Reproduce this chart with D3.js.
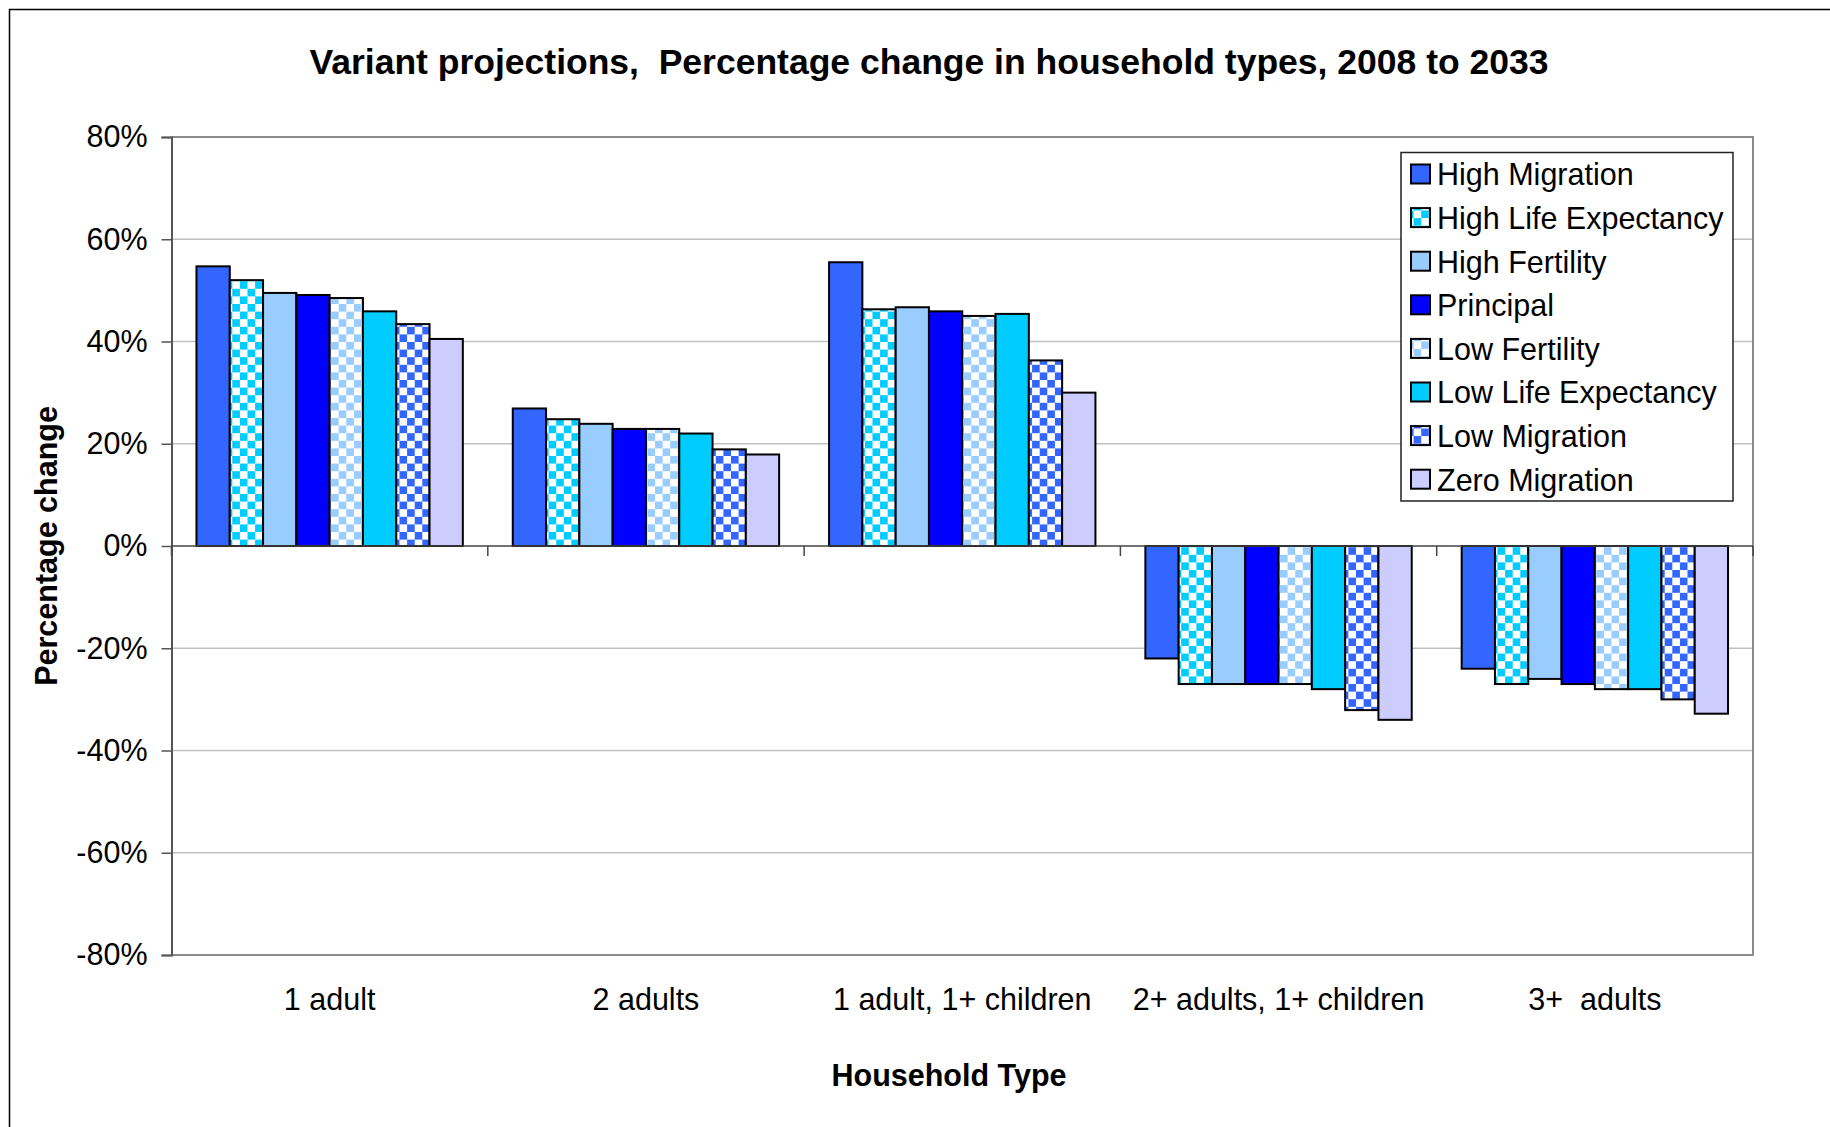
<!DOCTYPE html>
<html>
<head>
<meta charset="utf-8">
<script src="https://cdn.jsdelivr.net/npm/d3@7"></script>
<style>
  html, body { margin: 0; padding: 0; background: #fff; }
  svg { display: block; font-family: "Liberation Sans", Arial, sans-serif; }
</style>
</head>
<body>
<div id="chart"></div>
<script>
const CATEGORIES = ['1 adult', '2 adults', '1 adult, 1+ children', '2+ adults, 1+ children', '3+  adults'];
const SERIES = ['High Migration', 'High Life Expectancy', 'High Fertility', 'Principal',
  'Low Fertility', 'Low Life Expectancy', 'Low Migration', 'Zero Migration'];
// percentage change per household type, one array per variant
const HIGH_MIGRATION = [54.7, 26.9, 55.5, -22.0, -24.0];
const HIGH_LIFE_EXP = [52.0, 24.8, 46.3, -27.0, -27.0];
const HIGH_FERTILITY = [49.5, 23.9, 46.7, -27.0, -26.0];
const PRINCIPAL = [49.1, 22.9, 45.9, -27.0, -27.0];
const LOW_FERTILITY = [48.5, 22.9, 45.0, -27.0, -28.0];
const LOW_LIFE_EXP = [45.9, 22.0, 45.4, -28.0, -28.0];
const LOW_MIGRATION = [43.4, 18.9, 36.3, -32.1, -30.0];
const ZERO_MIGRATION = [40.5, 17.9, 30.0, -34.0, -32.8];
const VALUES = [HIGH_MIGRATION, HIGH_LIFE_EXP, HIGH_FERTILITY, PRINCIPAL,
  LOW_FERTILITY, LOW_LIFE_EXP, LOW_MIGRATION, ZERO_MIGRATION];
const Y_TICKS = [-80, -60, -40, -20, 0, 20, 40, 60, 80];
const Y_TICK_LABELS = ['-80%', '-60%', '-40%', '-20%', '0%', '20%', '40%', '60%', '80%'];

// fill colour and whether the bar uses a checker pattern
const STYLES = [
  { color: '#3366ff', checker: false },
  { color: '#00ccff', checker: true },
  { color: '#99ccff', checker: false },
  { color: '#0000ff', checker: false },
  { color: '#99ccff', checker: true },
  { color: '#00ccff', checker: false },
  { color: '#3366ff', checker: true },
  { color: '#ccccff', checker: false },
];

const W = 1830, H = 1127;
const PLOT = { left: 171.5, right: 1753, top: 137, bottom: 955 };
const FONT = 30.5;
const TITLE_FONT = 35.5;

const svg = d3.select('#chart').append('svg')
  .attr('width', W)
  .attr('height', H);

const defs = svg.append('defs');
const CELL = 7.6;
STYLES.forEach((s, i) => {
  if (!s.checker) return;
  const p = defs.append('pattern')
    .attr('id', 'chk' + i)
    .attr('patternUnits', 'userSpaceOnUse')
    .attr('width', CELL * 2)
    .attr('height', CELL * 2);
  p.append('rect').attr('width', CELL * 2).attr('height', CELL * 2).attr('fill', '#fff');
  p.append('rect').attr('width', CELL).attr('height', CELL).attr('fill', s.color);
  p.append('rect').attr('x', CELL).attr('y', CELL).attr('width', CELL).attr('height', CELL).attr('fill', s.color);
});
const fillOf = (i) => STYLES[i].checker ? `url(#chk${i})` : STYLES[i].color;

// outer chart border (runs off the right and bottom of the picture)
svg.append('rect')
  .attr('x', 9.5).attr('y', 9.5)
  .attr('width', W + 50).attr('height', H + 50)
  .attr('fill', 'none')
  .attr('stroke', '#000')
  .attr('stroke-width', 1.5);

svg.append('text')
  .attr('x', 929)
  .attr('y', 74)
  .attr('text-anchor', 'middle')
  .attr('font-size', TITLE_FONT + 'px')
  .attr('font-weight', 'bold')
  .style('white-space', 'pre')
  .text('Variant projections,  Percentage change in household types, 2008 to 2033');

const x0 = d3.scaleBand()
  .domain(CATEGORIES)
  .range([PLOT.left, PLOT.right])
  .padding(0);
const x1 = d3.scaleBand()
  .domain(SERIES)
  .range([0, x0.bandwidth()])
  .paddingInner(0)
  .paddingOuter(0.75);
const y = d3.scaleLinear()
  .domain([-80, 80])
  .range([PLOT.bottom, PLOT.top]);

// gridlines
svg.append('g')
  .selectAll('line')
  .data(Y_TICKS.filter((d) => d !== 0))
  .join('line')
  .attr('x1', PLOT.left).attr('x2', PLOT.right)
  .attr('y1', (d) => y(d)).attr('y2', (d) => y(d))
  .attr('stroke', '#c0c0c0')
  .attr('stroke-width', 1.5);

// plot frame (top, right, bottom)
svg.append('path')
  .attr('d', `M${PLOT.left},${PLOT.top}H${PLOT.right}V${PLOT.bottom}H${PLOT.left}`)
  .attr('fill', 'none')
  .attr('stroke', '#8c8c8c')
  .attr('stroke-width', 2);

// bars
const groups = svg.append('g')
  .selectAll('g')
  .data(CATEGORIES)
  .join('g')
  .attr('transform', (d) => `translate(${x0(d)},0)`);
groups.selectAll('rect')
  .data((d, ci) => SERIES.map((s, si) => ({ s, si, v: VALUES[si][ci] })))
  .join('rect')
  .attr('x', (d) => x1(d.s))
  .attr('y', (d) => y(Math.max(0, d.v)))
  .attr('width', x1.bandwidth())
  .attr('height', (d) => Math.abs(y(d.v) - y(0)))
  .attr('fill', (d) => fillOf(d.si))
  .attr('stroke', '#000')
  .attr('stroke-width', 2);

// y axis
const yAxis = d3.axisLeft(y)
  .tickValues(Y_TICKS)
  .tickSize(10)
  .tickPadding(14)
  .tickFormat((d, i) => Y_TICK_LABELS[i]);
const yAxisG = svg.append('g')
  .attr('transform', `translate(${PLOT.left},0)`)
  .call(yAxis);
yAxisG.select('.domain').attr('stroke', '#555').attr('stroke-width', 2);
yAxisG.selectAll('line').attr('stroke', '#555').attr('stroke-width', 1.5);
yAxisG.selectAll('text')
  .attr('font-size', FONT + 'px')
  .attr('font-family', '"Liberation Sans", Arial, sans-serif')
  .attr('fill', '#000');

// category axis sits on the zero line, ticks between groups
const boundaries = CATEGORIES.map((c) => x0(c)).concat([PLOT.right]);
svg.append('line')
  .attr('x1', PLOT.left).attr('x2', PLOT.right)
  .attr('y1', y(0)).attr('y2', y(0))
  .attr('stroke', '#444')
  .attr('stroke-width', 1.5);
svg.append('g')
  .selectAll('line')
  .data(boundaries)
  .join('line')
  .attr('x1', (d) => d).attr('x2', (d) => d)
  .attr('y1', y(0)).attr('y2', y(0) + 10)
  .attr('stroke', '#444')
  .attr('stroke-width', 1.5);

svg.append('g')
  .selectAll('text')
  .data(CATEGORIES)
  .join('text')
  .attr('x', (d) => x0(d) + x0.bandwidth() / 2)
  .attr('y', 1010)
  .attr('text-anchor', 'middle')
  .attr('font-size', FONT + 'px')
  .style('white-space', 'pre')
  .text((d) => d);

svg.append('text')
  .attr('x', 949)
  .attr('y', 1086)
  .attr('text-anchor', 'middle')
  .attr('font-size', FONT + 'px')
  .attr('font-weight', 'bold')
  .text('Household Type');

svg.append('text')
  .attr('transform', `translate(57,546) rotate(-90)`)
  .attr('text-anchor', 'middle')
  .attr('font-size', FONT + 'px')
  .attr('font-weight', 'bold')
  .text('Percentage change');

// legend
const legend = svg.append('g');
legend.append('rect')
  .attr('x', 1401).attr('y', 152.5)
  .attr('width', 332).attr('height', 348.5)
  .attr('fill', '#fff')
  .attr('stroke', '#222')
  .attr('stroke-width', 1.5);
const items = legend.selectAll('g.item')
  .data(SERIES)
  .join('g')
  .attr('class', 'item')
  .attr('transform', (d, i) => `translate(0,${174.5 + i * 43.6})`);
items.append('rect')
  .attr('x', 1411).attr('y', -10)
  .attr('width', 19).attr('height', 19)
  .attr('fill', (d, i) => fillOf(i))
  .attr('stroke', '#000')
  .attr('stroke-width', 2);
items.append('text')
  .attr('x', 1437)
  .attr('y', 0)
  .attr('dy', '0.36em')
  .attr('font-size', FONT + 'px')
  .text((d) => d);
</script>
</body>
</html>
